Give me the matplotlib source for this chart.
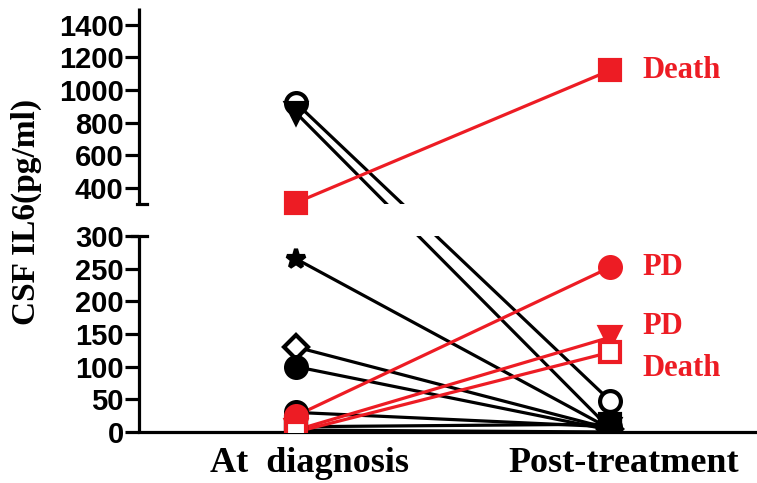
import numpy as np
import matplotlib
matplotlib.use("Agg")
import matplotlib.pyplot as plt
from matplotlib.transforms import blended_transform_factory, ScaledTranslation

categories = ["At  diagnosis", "Post-treatment"]

# black series: CSF IL6 at diagnosis -> post-treatment
black_diag = [920, 860, 265, 130, 100, 30, 8, 3]
black_post = [48, 5, 5, 5, 3, 8, 12, 0]
black_markers = ["o", "v", "*", "D", "o", "o", "s", "s"]
black_open = [True, False, False, True, False, False, False, False]

# red series (labelled outcome)
red_diag = [310, 25, 3, 0]
red_post = [1120, 252, 145, 122]
red_markers = ["s", "o", "v", "s"]
red_open = [False, False, False, True]
red_labels = ["Death", "PD", "PD", "Death"]
label_offsets = [(0, 0), (0, 0), (0, 8), (0, -12)]

yticks = [0, 50, 100, 150, 200, 250, 300, 400, 600, 800, 1000, 1200, 1400]

# broken y axis as one piecewise scale (lower 0-300, gap, upper 300-1500)
LOW_TOP = 300.0
GAP_V = 1.0
GAP_T = 48.5
K = 0.25
T_HI = LOW_TOP + GAP_T + GAP_V * K


def fwd(v):
    v = np.asarray(v, dtype=float)
    return np.where(v <= LOW_TOP, v,
                    np.where(v <= LOW_TOP + GAP_V,
                             LOW_TOP + (v - LOW_TOP) / GAP_V * (T_HI - LOW_TOP),
                             LOW_TOP + GAP_T + (v - LOW_TOP) * K))


def inv(t):
    t = np.asarray(t, dtype=float)
    return np.where(t <= LOW_TOP, t,
                    np.where(t <= T_HI,
                             LOW_TOP + (t - LOW_TOP) / (T_HI - LOW_TOP) * GAP_V,
                             LOW_TOP + (t - LOW_TOP - GAP_T) / K))


RED = "#ed1c24"
SERIF = "Liberation Serif"
SANS = "Liberation Sans"

fig = plt.figure(figsize=(7.57, 4.83), dpi=100)
ax = fig.add_axes([0.1836, 0.1056, 0.8164, 0.8772])
ax.set_yscale("function", functions=(fwd, inv))
ax.set_ylim(0, 1500)
ax.set_xlim(-0.5, 1.468)

x = [0, 1]
for d, p, m, o in zip(black_diag, black_post, black_markers, black_open):
    ax.plot(x, [d, p], color="black", lw=2.3, zorder=2)
    ms = 14 if m == "*" else (12 if m == "D" else 15)
    ax.plot(x, [d, p], ls="none", marker=m, ms=ms, color="black",
            mfc="white" if o else "black", mew=3, zorder=4)

for d, p, m, o in zip(red_diag, red_post, red_markers, red_open):
    ax.plot(x, [d, p], color=RED, lw=2.3, zorder=3)
    ax.plot(x, [d, p], ls="none", marker=m, ms=15, color=RED,
            mfc="white" if o else RED, mew=3, zorder=5)

for p, lab, off in zip(red_post, red_labels, label_offsets):
    ax.annotate(lab, (1, p), xytext=(23 + off[0], off[1]), textcoords="offset points",
                ha="left", va="center", color=RED, fontsize=22,
                fontweight="bold", family=SERIF)

# white band hiding the lines across the break
ax.axhspan(LOW_TOP, LOW_TOP + GAP_V, color="white", zorder=3.5, lw=0)

# left spine in two pieces with caps
ax.spines["left"].set_visible(False)
ax.spines["top"].set_visible(False)
ax.spines["right"].set_visible(False)
ax.spines["bottom"].set_linewidth(2.3)
trans = blended_transform_factory(ax.transAxes, ax.transData)
ax.plot([0, 0], [0, LOW_TOP], transform=trans, color="black", lw=2.3,
        clip_on=False, zorder=6, solid_capstyle="butt")
ax.plot([0, 0], [LOW_TOP + GAP_V, 1500], transform=trans, color="black", lw=2.3,
        clip_on=False, zorder=6, solid_capstyle="butt")
ax.plot([-0.012, 0.013], [LOW_TOP, LOW_TOP], transform=trans, color="black", lw=2.3,
        clip_on=False, zorder=6)
ax.plot([-0.004, 0.013], [LOW_TOP + GAP_V, LOW_TOP + GAP_V], transform=trans,
        color="black", lw=2.3, clip_on=False, zorder=6)

ax.set_yticks(yticks)
ax.set_yticklabels([str(t) for t in yticks])
ax.minorticks_off()
ax.tick_params(axis="y", length=10, width=2.3, pad=1, labelsize=21)
for lbl in ax.get_yticklabels():
    lbl.set_fontweight("bold")
    lbl.set_family(SANS)

ax.set_xticks(x)
ax.set_xticklabels(categories)
ax.tick_params(axis="x", length=0, pad=11, labelsize=26)
shift = ScaledTranslation(10 / 72, 0, fig.dpi_scale_trans)
for lbl in ax.get_xticklabels():
    lbl.set_fontweight("bold")
    lbl.set_family(SERIF)
    lbl.set_transform(lbl.get_transform() + shift)

ax.set_ylabel("CSF IL6(pg/ml)", fontsize=24, fontweight="bold", family=SERIF)
ax.yaxis.set_label_coords(-0.157, 0.519)

fig.savefig("out.png", dpi=100)
